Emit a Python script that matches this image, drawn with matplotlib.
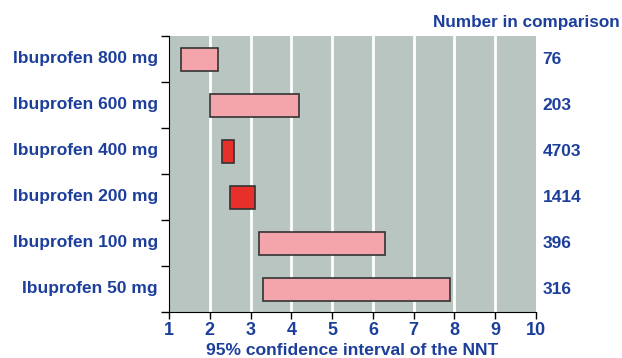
import numpy as np
import matplotlib.pyplot as plt

# --- Data ---
drugs = ["Ibuprofen 800 mg", "Ibuprofen 600 mg", "Ibuprofen 400 mg",
         "Ibuprofen 200 mg", "Ibuprofen 100 mg", "Ibuprofen 50 mg"]
ci_low = [1.3, 2.0, 2.3, 2.5, 3.2, 3.3]
ci_high = [2.2, 4.2, 2.6, 3.1, 6.3, 7.9]
n_compared = [76, 203, 4703, 1414, 396, 316]
highlight = [False, False, True, True, False, False]

blue = '#1d3f9c'
pale = '#f4a5ab'
red = '#e8302a'
plt.rcParams['font.family'] = ['Liberation Sans', 'DejaVu Sans']

fig = plt.figure(figsize=(6.22, 3.58), dpi=100)
ax = fig.add_axes([169 / 622, 46 / 358, 367 / 622, 276 / 358])
ax.set_facecolor('#b8c5c1')

n = len(drugs)
ypos = np.arange(n)[::-1]  # top row first
for y, lo, hi, hl in zip(ypos, ci_low, ci_high, highlight):
    ax.barh(y, hi - lo, left=lo, height=0.5, color=red if hl else pale,
            edgecolor='#333333', lw=1.2, zorder=3)

# white vertical grid
for v in range(2, 10):
    ax.axvline(v, color='white', lw=2, zorder=1)

ax.set_xlim(1, 10)
ax.set_ylim(-0.5, n - 0.5)

for s in ['top', 'right']:
    ax.spines[s].set_visible(False)
ax.spines['left'].set_color('black')
ax.spines['bottom'].set_color('black')

ax.set_xticks(range(1, 11))
ax.tick_params(axis='x', direction='out', length=5, width=1, colors='black',
               labelcolor=blue, labelsize=13, pad=2)
for t in ax.get_xticklabels():
    t.set_fontweight('bold')

# left axis: ticks at boundaries, labels at centres
ax.set_yticks(np.arange(n + 1) - 0.5)
ax.set_yticklabels([])
ax.tick_params(axis='y', direction='out', length=6, width=1, colors='black')
for y, name, cnt in zip(ypos, drugs, n_compared):
    ax.text(-0.03, y, name, transform=ax.get_yaxis_transform(), ha='right',
            va='center', color=blue, fontsize=12.5, fontweight='bold')
    ax.text(1.018, y, str(cnt), transform=ax.get_yaxis_transform(), ha='left',
            va='center', color=blue, fontsize=12.5, fontweight='bold')

fig.text(620 / 622, 1 - 22 / 358, "Number in comparison", ha='right', va='center',
         color=blue, fontsize=12.3, fontweight='bold')
ax.set_xlabel("95% confidence interval of the NNT", color=blue, fontsize=12.6,
              fontweight='bold', labelpad=3)

fig.savefig('out.png', dpi=100)
